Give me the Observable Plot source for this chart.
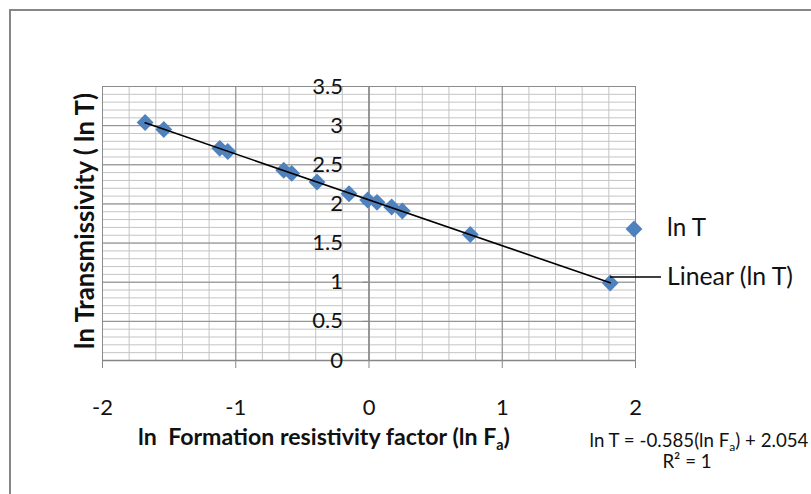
<!DOCTYPE html>
<html>
<head>
<meta charset="utf-8">
<script src="https://cdn.jsdelivr.net/npm/d3@7"></script>
<script src="https://cdn.jsdelivr.net/npm/@observablehq/plot@0.6"></script>
<style>
  html, body { margin: 0; padding: 0; background: #fff; }
  #chart { width: 811px; height: 494px; overflow: hidden; }
</style>
</head>
<body>
<div id="chart"></div>
<script>
// ln Formation resistivity factor (ln Fa)
const lnFa = [-1.68, -1.54, -1.12, -1.06, -0.64, -0.58, -0.39, -0.15, -0.01, 0.06, 0.17, 0.25, 0.76, 1.81];
// ln Transmissivity (ln T)
const lnT  = [3.04, 2.95, 2.71, 2.67, 2.43, 2.39, 2.28, 2.13, 2.05, 2.02, 1.96, 1.91, 1.61, 0.99];
const xTicks = [-2, -1, 0, 1, 2];
const yTicks = [0, 0.5, 1, 1.5, 2, 2.5, 3, 3.5];
const xMinorStep = 0.2;
const yMinorStep = 0.1;

const data = lnFa.map((x, i) => ({x, y: lnT[i]}));
const xMinor = d3.range(-2, 2 + 1e-9, xMinorStep).map(v => +v.toFixed(2));
const yMinor = d3.range(0, 3.5 + 1e-9, yMinorStep).map(v => +v.toFixed(2));

const FONT = "Lato, 'Open Sans', sans-serif";
const BLUE = "#4F81BD";
const MINOR = "#c4c4c4";
const MAJOR = "#8c8c8c";
const INK = "#111";

const chart = Plot.plot({
  width: 811,
  height: 494,
  marginLeft: 102,
  marginRight: 176,
  marginTop: 86,
  marginBottom: 134,
  style: {fontFamily: FONT, background: "white", overflow: "visible"},
  x: {domain: [-2, 2], axis: null},
  y: {domain: [0, 3.5], axis: null},
  marks: [
    Plot.ruleY(yMinor, {stroke: MINOR, strokeWidth: 1}),
    Plot.ruleX(xMinor, {stroke: MINOR, strokeWidth: 1}),
    Plot.ruleY(yTicks, {stroke: MAJOR, strokeWidth: 1}),
    Plot.ruleX(xTicks, {stroke: MAJOR, strokeWidth: 1}),
    Plot.ruleX([0], {stroke: "#868686", strokeWidth: 1.3}),
    Plot.ruleY([0], {stroke: "#868686", strokeWidth: 1.3}),
    Plot.ruleY(yTicks, {x1: 0, x2: 0, insetLeft: -6, stroke: "#868686"}),
    Plot.ruleX(xTicks, {y1: 0, y2: 0, insetBottom: -8, stroke: "#868686"}),
    Plot.text(yTicks, {x: 0, y: d => d, text: d => String(d), textAnchor: "end", dx: -26, fontSize: 22, fill: INK}),
    Plot.text(xTicks, {x: d => d, y: 0, text: d => String(d), dy: 47, fontSize: 22, fill: INK}),
    Plot.dot(data, {x: "x", y: "y", symbol: "diamond2", r: 7.6, fill: BLUE, stroke: "none"}),
    Plot.linearRegressionY(data, {x: "x", y: "y", ci: 0, stroke: "black", strokeWidth: 1.6})
  ]
});

document.getElementById("chart").appendChild(chart);

const svg = d3.select(chart);

// scale a text element's font so its rendered width matches target
function fit(sel, target) {
  const node = sel.node();
  const fs = parseFloat(sel.attr("font-size"));
  const w = node.getComputedTextLength();
  if (w > 0) sel.attr("font-size", (fs * target / w).toFixed(2));
  return sel;
}

// chart border
svg.append("rect").attr("x", 10).attr("y", 10).attr("width", 900).attr("height", 600)
  .attr("fill", "none").attr("stroke", "#878787").attr("stroke-width", 2);

// y title
fit(svg.append("text")
  .attr("transform", "translate(94,221) rotate(-90)")
  .attr("text-anchor", "middle")
  .attr("font-family", FONT).attr("font-weight", "bold").attr("font-size", 22)
  .attr("fill", INK)
  .text("ln Transmissivity ( ln T)"), 256);

// x title
const xt = svg.append("text")
  .attr("x", 324).attr("y", 445)
  .attr("text-anchor", "middle")
  .attr("font-family", FONT).attr("font-weight", "bold").attr("font-size", 21)
  .attr("fill", INK)
  .attr("xml:space", "preserve");
xt.append("tspan").text("ln  Formation resistivity factor (ln F");
xt.append("tspan").attr("font-size", "0.62em").attr("dy", 5).text("a");
xt.append("tspan").attr("dy", -5).text(")");
fit(xt, 372);

// legend
svg.append("path")
  .attr("d", d3.symbol(d3.symbolDiamond2, Math.PI * 7.6 * 7.6)())
  .attr("transform", "translate(634,229)")
  .attr("fill", BLUE);
fit(svg.append("text").attr("x", 667).attr("y", 236).attr("text-anchor", "start")
  .attr("font-family", FONT).attr("font-size", 22).attr("fill", INK).text("ln T"), 39);
svg.append("line").attr("x1", 610).attr("x2", 661).attr("y1", 277).attr("y2", 277)
  .attr("stroke", "black").attr("stroke-width", 1.6);
fit(svg.append("text").attr("x", 667).attr("y", 285).attr("text-anchor", "start")
  .attr("font-family", FONT).attr("font-size", 22).attr("fill", INK).text("Linear (ln T)"), 126);

// equation
const eq = svg.append("text")
  .attr("x", 699).attr("y", 447)
  .attr("text-anchor", "middle")
  .attr("font-family", FONT).attr("font-size", 17).attr("fill", INK);
eq.append("tspan").text("ln T = -0.585(ln F");
eq.append("tspan").attr("font-size", "0.65em").attr("dy", 4).text("a");
eq.append("tspan").attr("dy", -4).text(") + 2.054");
fit(eq, 219);
const eqSize = Math.min(19, parseFloat(eq.attr("font-size")));
eq.attr("font-size", eqSize);
svg.append("text")
  .attr("x", 687).attr("y", 468)
  .attr("text-anchor", "middle")
  .attr("font-family", FONT).attr("font-size", eqSize).attr("fill", INK)
  .text("R² = 1");
</script>
</body>
</html>
